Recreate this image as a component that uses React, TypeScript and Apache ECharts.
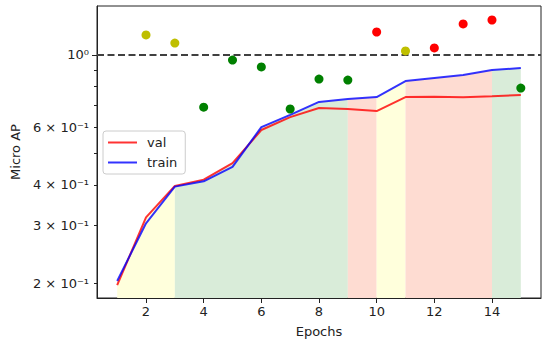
import React, { useEffect, useRef } from "react";
import * as echarts from "echarts";

const epochs = [1, 2, 3, 4, 5, 6, 7, 8, 9, 10, 11, 12, 13, 14, 15];
const valAP = [0.197, 0.318, 0.397, 0.415, 0.466, 0.589, 0.645, 0.688, 0.683, 0.673, 0.743, 0.745, 0.742, 0.747, 0.754];
const trainAP = [0.203, 0.305, 0.395, 0.41, 0.454, 0.601, 0.655, 0.718, 0.733, 0.743, 0.832, 0.85, 0.868, 0.899, 0.912];
const markerEpochs = [2, 3, 4, 5, 6, 7, 8, 9, 10, 11, 12, 13, 14, 15];
const markerAP = [1.152, 1.088, 0.692, 0.965, 0.919, 0.683, 0.844, 0.838, 1.176, 1.029, 1.051, 1.245, 1.28, 0.792];
const markerClass = ["y", "y", "g", "g", "g", "g", "g", "g", "r", "y", "r", "r", "r", "g"];
const xTicks = [2, 4, 6, 8, 10, 12, 14];
const yLabelTicks = [0.2, 0.3, 0.4, 0.6, 1];
const yMinorTicks = [0.2, 0.3, 0.4, 0.5, 0.6, 0.7, 0.8, 0.9];
const yMajorTicks = [1];
const referenceLevel = 1;

const dotColor: Record<string, string> = { y: "#bfbf00", g: "#008000", r: "#ff0000" };
const bandColor: Record<string, string> = { y: "#ffffdc", g: "#d9ecd9", r: "#fedcd2" };
const FONT = "DejaVu Sans";

function formatY(v: number): string {
  if (Math.abs(v - 1) < 1e-9) return "10⁰";
  return `${Math.round(v * 10)} × 10⁻¹`;
}

export default function App() {
  const ref = useRef<HTMLDivElement>(null);
  useEffect(() => {
    document.body.style.margin = "0";
    const chart = echarts.init(ref.current!, null, { renderer: "svg" });
    const top = epochs.map((_, i) => Math.max(valAP[i], trainAP[i]));
    const bands: { cls: string; from: number; to: number }[] = [];
    markerClass.forEach((c, i) => {
      const last = bands[bands.length - 1];
      if (last && last.cls === c) last.to = i + 1;
      else bands.push({ cls: c, from: i, to: i + 1 });
    });
    const bandSeries = bands.map((b, k) => ({
      name: `band${k}`,
      type: "line",
      data: epochs.slice(b.from, b.to + 1).map((e, j) => [e, top[b.from + j]]),
      showSymbol: false,
      symbol: "none",
      lineStyle: { width: 0, opacity: 0 },
      areaStyle: { color: bandColor[b.cls], opacity: 1, origin: "start" },
      silent: true,
      z: 1,
    }));
    chart.setOption({
      animation: false,
      textStyle: { fontFamily: FONT },
      grid: { left: 97, right: 1, top: 6, bottom: 45, show: true, borderColor: "#222", borderWidth: 1, backgroundColor: "transparent" },
      legend: {
        data: ["val", "train"],
        orient: "vertical",
        left: 103,
        top: 131,
        itemWidth: 29,
        itemHeight: 13,
        itemGap: 7,
        padding: [5, 8, 5, 4],
        backgroundColor: "rgba(255,255,255,0.8)",
        borderColor: "#cccccc",
        borderWidth: 1,
        borderRadius: 3,
        itemStyle: { opacity: 0 },
        textStyle: { fontFamily: FONT, fontSize: 13, color: "#222", padding: [0, 0, 0, 5] },
      },
      xAxis: {
        type: "value",
        min: 0.3,
        max: 15.7,
        name: "Epochs",
        nameLocation: "middle",
        nameGap: 27,
        nameTextStyle: { fontFamily: FONT, fontSize: 13, color: "#222" },
        axisLine: { show: true, lineStyle: { color: "#222", width: 1 } },
        axisTick: { show: true, length: 5, lineStyle: { color: "#222" }, customValues: xTicks },
        axisLabel: { fontFamily: FONT, fontSize: 13, color: "#222", margin: 7, customValues: xTicks },
        splitLine: { show: false },
      },
      yAxis: [
        {
          type: "log",
          logBase: 10,
          min: 0.18,
          max: 1.413,
          name: "Micro AP",
          nameLocation: "middle",
          nameGap: 72,
          nameRotate: 90,
          nameTextStyle: { fontFamily: FONT, fontSize: 13, color: "#222" },
          axisLine: { show: true, lineStyle: { color: "#222", width: 1 } },
          axisTick: { show: true, length: 3, lineStyle: { color: "#222" }, customValues: yMinorTicks },
          axisLabel: { fontFamily: FONT, fontSize: 13, color: "#222", margin: 8, customValues: yLabelTicks, formatter: (v: number) => formatY(v) },
          splitLine: { show: false },
          minorTick: { show: false },
        },
        {
          type: "log",
          logBase: 10,
          min: 0.18,
          max: 1.413,
          position: "left",
          axisLine: { show: false },
          axisTick: { show: true, length: 5, lineStyle: { color: "#222" }, customValues: yMajorTicks },
          axisLabel: { show: false },
          splitLine: { show: false },
        },
      ],
      series: [
        ...bandSeries,
        {
          name: "val",
          type: "line",
          data: epochs.map((e, i) => [e, valAP[i]]),
          symbol: "none",
          showSymbol: false,
          color: "#ff0000",
          lineStyle: { color: "#ff0000", width: 2, opacity: 0.8 },
          z: 3,
          markLine: {
            silent: true,
            symbol: "none",
            label: { show: false },
            lineStyle: { color: "#404040", width: 2, type: [7, 3.5] },
            data: [{ yAxis: referenceLevel }],
          },
        },
        {
          name: "train",
          type: "line",
          data: epochs.map((e, i) => [e, trainAP[i]]),
          symbol: "none",
          showSymbol: false,
          color: "#0000ff",
          lineStyle: { color: "#0000ff", width: 2, opacity: 0.8 },
          z: 4,
        },
        {
          name: "markers",
          type: "scatter",
          symbolSize: 9,
          data: markerEpochs.map((e, i) => ({ value: [e, markerAP[i]], itemStyle: { color: dotColor[markerClass[i]], opacity: 1 } })),
          itemStyle: { opacity: 1 },
          z: 5,
        },
      ],
    });
    return () => chart.dispose();
  }, []);
  return <div ref={ref} style={{ width: 542, height: 343 }} />;
}
